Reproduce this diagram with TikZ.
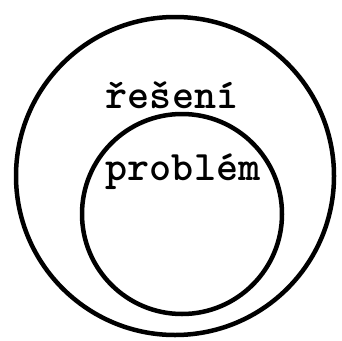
\documentclass[tikz,border=0pt]{standalone}
\usepackage{tikz}
\usetikzlibrary{positioning}

\begin{document}
\begin{tikzpicture}[x=1pt, y=1pt,
            ring/.style={draw, circle, line width=4.5pt, inner sep=0pt},
            word/.style={font=\ttfamily\bfseries\fontsize{42}{42}\selectfont, inner sep=0pt}]

        \useasboundingbox (0,0) rectangle (342,-340);

        \node[ring, minimum size=318pt] (outer) at (175,-176) {};
        \node[ring, minimum size=200pt] (inner) at (182,-214) {};

        \node[word] (reseni)  at (172,-95)  {řešení};
        \node[word] (problem) at (183,-172) {problém};
    \end{tikzpicture}
\end{document}
